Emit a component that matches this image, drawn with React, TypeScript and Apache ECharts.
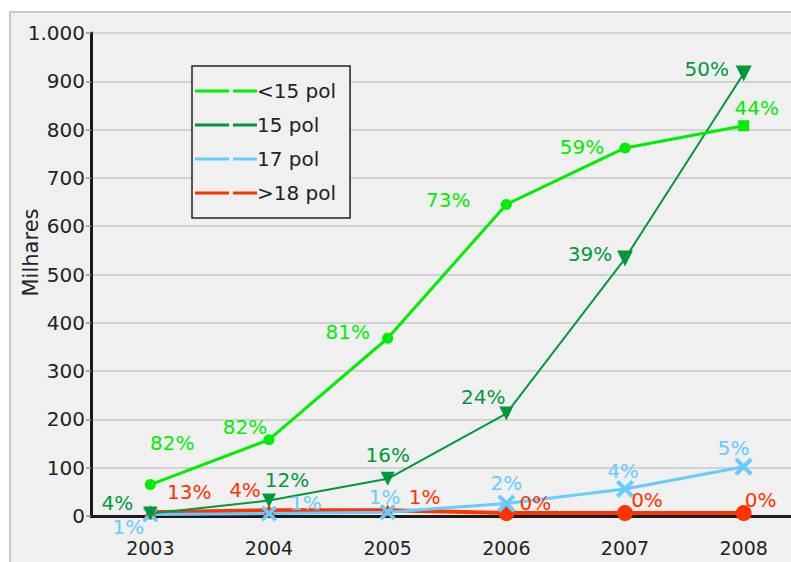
import React, { useEffect, useRef } from "react";
import * as echarts from "echarts";

const years = ["2003", "2004", "2005", "2006", "2007", "2008"];
const seriesNames = ["<15 pol", "15 pol", "17 pol", ">18 pol"];
const lt15 = [65, 158, 368, 645, 762, 808];
const p15 = [5, 32, 77, 212, 533, 916];
const p17 = [3, 5, 8, 26, 56, 102];
const gt18 = [8, 12, 12, 6, 6, 6];
const lt15Pct = ["82%", "82%", "81%", "73%", "59%", "44%"];
const p15Pct = ["4%", "12%", "16%", "24%", "39%", "50%"];
const p17Pct = ["1%", "1%", "1%", "2%", "4%", "5%"];
const gt18Pct = ["13%", "4%", "1%", "0%", "0%", "0%"];
const yTicks = [0, 100, 200, 300, 400, 500, 600, 700, 800, 900, 1000];

const FONT = "DejaVu Sans";
const COLORS = ["#00ee00", "#00993a", "#66ccff", "#ff3300"];

const lt15Off = [[22, -42], [-24, -13], [-40, -6], [-58, -4], [-43, -1], [13, -18]];
const p15Off = [[-33, -11], [18, -21], [0, -24], [-23, -17], [-35, -5], [-37, -5]];
const p17Off = [[-22, 12], [37, -11], [-3, -15], [0, -20], [-2, -18], [-10, -19]];
const gt18Off = [[39, -20], [-24, -20], [37, -13], [29, -10], [22, -13], [17, -13]];

const XPATH =
  "path://M0,1.6L1.6,0L5,3.4L8.4,0L10,1.6L6.6,5L10,8.4L8.4,10L5,6.6L1.6,10L0,8.4L3.4,5Z";
const LEGEND_ICON = "path://M0,0h34v3h-34z M38,0h24v3h-24z";

function build(
  name: string,
  values: number[],
  pct: string[],
  offs: number[][],
  color: string,
  width: number,
  symbols: string[],
  sizes: number[],
  rotate: number
) {
  return {
    name,
    type: "line",
    lineStyle: { color, width },
    itemStyle: { color },
    symbolRotate: rotate,
    z: 3,
    data: values.map((v, i) => ({
      value: v,
      symbol: symbols[i],
      symbolSize: sizes[i],
      label: {
        show: true,
        position: "inside",
        offset: offs[i],
        formatter: pct[i],
        color,
        fontSize: 20,
        fontFamily: FONT,
      },
    })),
  };
}

export default function App() {
  const ref = useRef<HTMLDivElement>(null);
  useEffect(() => {
    if (!ref.current) return;
    const chart = echarts.init(ref.current, null, { renderer: "svg" });
    chart.setOption({
      animation: false,
      backgroundColor: "#ffffff",
      textStyle: { fontFamily: FONT },
      graphic: [
        {
          type: "rect",
          z: -10,
          shape: { x: 10, y: 12, width: 820, height: 600 },
          style: { fill: "#f0f0f0", stroke: "#c8c8c8", lineWidth: 2 },
        },
      ],
      grid: { left: 91, top: 33, width: 712, height: 483, outerBoundsMode: "none", containLabel: false },
      legend: {
        orient: "vertical",
        left: 192,
        top: 66,
        data: seriesNames.map((n, i) => ({ name: n, icon: LEGEND_ICON, itemStyle: { color: COLORS[i] } })),
        itemWidth: 62,
        itemHeight: 3,
        itemGap: 14,
        padding: [15, 14, 15, 3],
        borderColor: "#222",
        borderWidth: 1.5,
        backgroundColor: "#f0f0f0",
        textStyle: { fontSize: 20, color: "#222", fontFamily: FONT, padding: [0, 0, 0, -5] },
        selectedMode: false,
      },
      xAxis: {
        type: "category",
        data: years,
        boundaryGap: true,
        axisLine: { lineStyle: { color: "#1a1a1a", width: 3 } },
        axisTick: { show: false },
        axisLabel: { fontSize: 19, color: "#222", margin: 22, fontFamily: FONT },
        z: 2,
      },
      yAxis: {
        type: "value",
        min: yTicks[0],
        max: yTicks[yTicks.length - 1],
        interval: 100,
        name: "Milhares",
        nameLocation: "middle",
        nameRotate: 90,
        nameGap: 50,
        nameMoveOverlap: false,
        nameTextStyle: { fontSize: 21, color: "#222", fontFamily: FONT, padding: [0, 0, 0, 44] },
        axisLine: { show: true, lineStyle: { color: "#1a1a1a", width: 3 } },
        axisTick: { show: true, length: 5, lineStyle: { color: "#999", width: 1.5 } },
        axisLabel: {
          fontSize: 20,
          color: "#222",
          margin: 6,
          fontFamily: FONT,
          formatter: (v: number) => String(v).replace(/\B(?=(\d{3})+(?!\d))/g, "."),
        },
        splitLine: { lineStyle: { color: "#c8c8c8", width: 1.5 } },
        z: 2,
      },
      series: [
        build(seriesNames[3], gt18, gt18Pct, gt18Off, COLORS[3], 4,
          ["triangle", "triangle", "triangle", "circle", "circle", "circle"], [14, 12, 12, 16, 16, 16], 0),
        build(seriesNames[2], p17, p17Pct, p17Off, COLORS[2], 3,
          [XPATH, XPATH, XPATH, XPATH, XPATH, XPATH], [16, 16, 16, 18, 18, 18], 0),
        build(seriesNames[1], p15, p15Pct, p15Off, COLORS[1], 2,
          ["triangle", "triangle", "triangle", "triangle", "triangle", "triangle"], [14, 14, 14, 14, 16, 16], 180),
        build(seriesNames[0], lt15, lt15Pct, lt15Off, COLORS[0], 3,
          ["circle", "circle", "circle", "circle", "circle", "rect"], [11, 11, 11, 11, 11, 11], 0),
      ],
    });
    return () => chart.dispose();
  }, []);
  return (
    <div
      ref={ref}
      style={{ position: "absolute", left: 0, top: 0, width: 791, height: 562 }}
    />
  );
}
